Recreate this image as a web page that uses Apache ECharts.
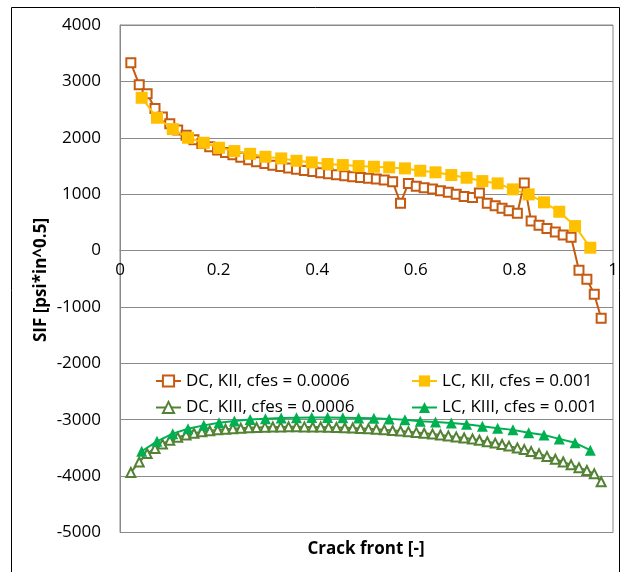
<!DOCTYPE html>
<html>
<head>
<meta charset="utf-8">
<script src="https://cdn.jsdelivr.net/npm/echarts@6/dist/echarts.min.js"></script>
<style>
html,body{margin:0;padding:0;background:#fff;}
#c{width:621px;height:572px;}
</style>
</head>
<body>
<div id="c"></div>
<script>
// ---- data ----
const seriesNames = ['DC, KII, cfes = 0.0006', 'LC, KII, cfes = 0.001', 'DC, KIII, cfes = 0.0006', 'LC, KIII, cfes = 0.001'];

const xDC = [0.022,0.039,0.055,0.071,0.086,0.101,0.117,0.134,0.150,0.166,0.182,0.198,0.214,0.229,0.245,0.261,0.277,0.294,0.310,0.326,0.342,0.358,0.374,0.391,0.407,0.423,0.439,0.456,0.472,0.488,0.504,0.520,0.536,0.553,0.569,0.585,0.601,0.617,0.634,0.650,0.666,0.682,0.698,0.715,0.729,0.745,0.761,0.775,0.789,0.806,0.820,0.834,0.850,0.866,0.883,0.899,0.915,0.931,0.947,0.962,0.976];

const dcKII = [3330,2940,2780,2520,2370,2250,2140,2045,1965,1900,1840,1785,1740,1700,1655,1610,1575,1545,1515,1490,1465,1440,1420,1400,1380,1360,1345,1325,1310,1295,1282,1268,1250,1220,840,1190,1140,1115,1090,1060,1035,1000,960,940,1020,840,795,750,705,660,1200,525,450,390,330,275,235,-350,-510,-775,-1200];

const dcKIII = [-3935,-3750,-3600,-3510,-3430,-3365,-3310,-3270,-3240,-3215,-3195,-3180,-3168,-3158,-3150,-3143,-3137,-3132,-3129,-3127,-3126,-3126,-3127,-3128,-3130,-3133,-3137,-3142,-3148,-3155,-3162,-3170,-3180,-3190,-3200,-3212,-3225,-3240,-3255,-3270,-3287,-3305,-3323,-3343,-3365,-3390,-3415,-3440,-3468,-3500,-3530,-3565,-3605,-3650,-3700,-3750,-3800,-3850,-3900,-3960,-4100];

const xLC = [0.044,0.075,0.107,0.138,0.170,0.201,0.232,0.264,0.295,0.327,0.358,0.389,0.421,0.452,0.484,0.515,0.546,0.578,0.609,0.640,0.672,0.703,0.735,0.766,0.797,0.829,0.860,0.891,0.923,0.954];

const lcKII = [2709,2355,2154,2000,1911,1823,1764,1715,1663,1634,1592,1564,1534,1516,1498,1486,1475,1457,1415,1387,1339,1291,1232,1191,1085,996,855,688,434,50];

const lcKIII = [-3559,-3383,-3247,-3159,-3100,-3053,-3023,-2995,-2982,-2970,-2965,-2962,-2962,-2965,-2968,-2972,-2985,-3000,-3025,-3040,-3060,-3080,-3115,-3150,-3180,-3230,-3270,-3340,-3410,-3540];

const xTicks = {min: 0, max: 1, interval: 0.2};
const yTicks = {min: -5000, max: 4000, interval: 1000};
const xTitle = 'Crack front [-]';
const yTitle = 'SIF [psi*in^0.5]';

// ---- chart ----
const FONT = "'Open Sans', 'Liberation Sans', sans-serif";
const colors = ['#C55A11', '#FFC000', '#548235', '#00B050'];
const pair = (xs, ys) => xs.map((x, i) => [x, ys[i]]);

const GRID = {left: 120, right: 8, top: 25, bottom: 39.5};
const plotH = 572 - GRID.top - GRID.bottom;
// distance from the bottom of the plot to the y = 0 line, via the y scale
const zeroOffset = plotH * (0 - yTicks.min) / (yTicks.max - yTicks.min);

const chart = echarts.init(document.getElementById('c'), null, {renderer: 'canvas'});

function mkSeries(i, xs, ys, symbol, size) {
  const empty = symbol.startsWith('empty');
  return {
    name: seriesNames[i],
    type: 'line',
    data: pair(xs, ys),
    symbol: symbol,
    symbolSize: size,
    showAllSymbol: true,
    lineStyle: {color: colors[i], width: 2},
    itemStyle: empty ? {color: colors[i], borderColor: colors[i], borderWidth: 2}
                     : {color: colors[i], borderWidth: 0},
    emphasis: {disabled: true},
    z: 2 + i
  };
}

const legendText = {fontSize: 17, fontFamily: FONT, color: '#000', lineHeight: 20};

chart.setOption({
  animation: false,
  backgroundColor: '#fff',
  grid: Object.assign({show: true, borderColor: '#8a8a8a', borderWidth: 1}, GRID),
  xAxis: {
    type: 'value', min: xTicks.min, max: xTicks.max, interval: xTicks.interval,
    position: 'bottom',
    offset: -zeroOffset,
    axisLine: {show: true, onZero: false, lineStyle: {color: '#8a8a8a', width: 1}},
    axisTick: {show: false},
    splitLine: {show: false},
    axisLabel: {fontSize: 17, fontFamily: FONT, color: '#000', margin: 11, formatter: v => String(+v.toFixed(1))}
  },
  yAxis: {
    type: 'value', min: yTicks.min, max: yTicks.max, interval: yTicks.interval,
    axisLine: {show: true, lineStyle: {color: '#8a8a8a', width: 1}},
    axisTick: {show: false},
    splitLine: {show: true, lineStyle: {color: '#8a8a8a', width: 1}},
    axisLabel: {fontSize: 17, fontFamily: FONT, color: '#000', margin: 19, formatter: v => String(v)}
  },
  legend: [
    {data: [seriesNames[0], seriesNames[2]], orient: 'vertical', left: 150, top: 366,
     itemGap: 6.5, itemWidth: 25, itemHeight: 14, textStyle: legendText},
    {data: [seriesNames[1], seriesNames[3]], orient: 'vertical', left: 406, top: 366,
     itemGap: 6.5, itemWidth: 25, itemHeight: 14, textStyle: legendText}
  ],
  series: [
    mkSeries(0, xDC, dcKII, 'emptyRect', 9),
    mkSeries(1, xLC, lcKII, 'rect', 12),
    mkSeries(2, xDC, dcKIII, 'emptyTriangle', 9),
    mkSeries(3, xLC, lcKIII, 'triangle', 11)
  ],
  graphic: [
    {type: 'rect', silent: true, shape: {x: 11.5, y: 7.5, width: 608, height: 600},
     style: {fill: null, stroke: '#000', lineWidth: 1}, z: -10},
    {type: 'text', x: 366, y: 549, style: {text: xTitle, font: "bold 17px 'Open Sans', sans-serif", fill: '#000', align: 'center', verticalAlign: 'middle'}},
    {type: 'text', x: 41.5, y: 280, rotation: Math.PI / 2, style: {text: yTitle, font: "bold 17px 'Open Sans', sans-serif", fill: '#000', align: 'center', verticalAlign: 'middle'}}
  ]
});
</script>
</body>
</html>
